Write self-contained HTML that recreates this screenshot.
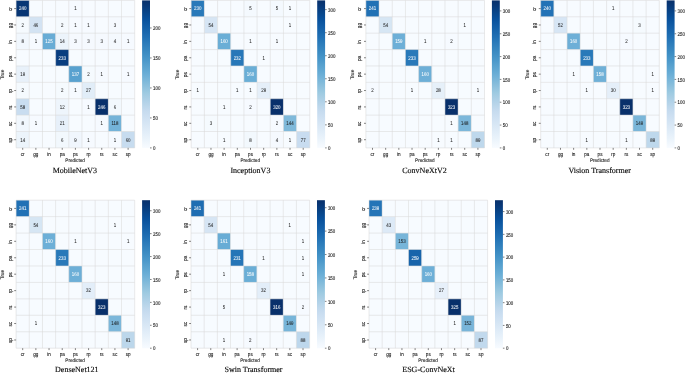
<!DOCTYPE html>
<html><head><meta charset="utf-8"><title>Confusion matrices</title>
<style>
html,body{margin:0;padding:0;background:#fff;}
body{width:685px;height:373px;overflow:hidden;}
svg{display:block;}
svg text{font-family:"Liberation Sans",sans-serif;fill:#1c1c1c;stroke:#1c1c1c;stroke-width:0.12px;font-size:5.45px;text-rendering:geometricPrecision;}
svg .an text.w{fill:#fff;stroke:#fff;}
.an text{text-anchor:middle;stroke-width:0.05px;}
.tk text{text-anchor:middle;font-size:5.5px;}
.ct text{text-anchor:start;}
svg text.lb{text-anchor:middle;font-size:5.1px;}
svg text.tt{font-family:"Liberation Serif",serif;font-size:8.0px;text-anchor:middle;fill:#0a0a0a;stroke:#0a0a0a;stroke-width:0.14px;}
</style></head><body>
<svg width="685" height="373" viewBox="0 0 685 373">
<defs><linearGradient id="cb" x1="0" y1="1" x2="0" y2="0">
<stop offset="0.0000" stop-color="#f7fbff"/>
<stop offset="0.0312" stop-color="#f1f7fd"/>
<stop offset="0.0625" stop-color="#eaf3fb"/>
<stop offset="0.0938" stop-color="#e4eff9"/>
<stop offset="0.1250" stop-color="#deebf7"/>
<stop offset="0.1562" stop-color="#d8e7f5"/>
<stop offset="0.1875" stop-color="#d2e3f3"/>
<stop offset="0.2188" stop-color="#ccdff1"/>
<stop offset="0.2500" stop-color="#c6dbef"/>
<stop offset="0.2812" stop-color="#bcd7eb"/>
<stop offset="0.3125" stop-color="#b2d2e8"/>
<stop offset="0.3438" stop-color="#a8cee4"/>
<stop offset="0.3750" stop-color="#9dcae1"/>
<stop offset="0.4062" stop-color="#91c3de"/>
<stop offset="0.4375" stop-color="#84bcdb"/>
<stop offset="0.4688" stop-color="#77b5d9"/>
<stop offset="0.5000" stop-color="#6aaed6"/>
<stop offset="0.5312" stop-color="#60a7d2"/>
<stop offset="0.5625" stop-color="#56a0ce"/>
<stop offset="0.5938" stop-color="#4b98ca"/>
<stop offset="0.6250" stop-color="#4191c6"/>
<stop offset="0.6562" stop-color="#3989c1"/>
<stop offset="0.6875" stop-color="#3181bd"/>
<stop offset="0.7188" stop-color="#2979b9"/>
<stop offset="0.7500" stop-color="#2070b4"/>
<stop offset="0.7812" stop-color="#1a68ae"/>
<stop offset="0.8125" stop-color="#1460a8"/>
<stop offset="0.8438" stop-color="#0e58a2"/>
<stop offset="0.8750" stop-color="#08509b"/>
<stop offset="0.9062" stop-color="#08488e"/>
<stop offset="0.9375" stop-color="#084082"/>
<stop offset="0.9688" stop-color="#083776"/>
<stop offset="1.0000" stop-color="#08306b"/>
</linearGradient></defs>
<rect width="685" height="373" fill="#ffffff"/>
<g>
<rect x="16.10" y="0.40" width="13.23" height="16.44" fill="#083674"/>
<rect x="29.28" y="0.40" width="13.23" height="16.44" fill="#f7fbff"/>
<rect x="42.46" y="0.40" width="13.23" height="16.44" fill="#f7fbff"/>
<rect x="55.63" y="0.40" width="13.23" height="16.44" fill="#f7fbff"/>
<rect x="68.81" y="0.40" width="13.23" height="16.44" fill="#f6faff"/>
<rect x="81.99" y="0.40" width="13.23" height="16.44" fill="#f7fbff"/>
<rect x="95.17" y="0.40" width="13.23" height="16.44" fill="#f7fbff"/>
<rect x="108.34" y="0.40" width="13.23" height="16.44" fill="#f7fbff"/>
<rect x="121.52" y="0.40" width="13.23" height="16.44" fill="#f7fbff"/>
<rect x="16.10" y="16.79" width="13.23" height="16.44" fill="#f5fafe"/>
<rect x="29.28" y="16.79" width="13.23" height="16.44" fill="#d3e3f3"/>
<rect x="42.46" y="16.79" width="13.23" height="16.44" fill="#f7fbff"/>
<rect x="55.63" y="16.79" width="13.23" height="16.44" fill="#f5fafe"/>
<rect x="68.81" y="16.79" width="13.23" height="16.44" fill="#f6faff"/>
<rect x="81.99" y="16.79" width="13.23" height="16.44" fill="#f6faff"/>
<rect x="95.17" y="16.79" width="13.23" height="16.44" fill="#f7fbff"/>
<rect x="108.34" y="16.79" width="13.23" height="16.44" fill="#f5f9fe"/>
<rect x="121.52" y="16.79" width="13.23" height="16.44" fill="#f7fbff"/>
<rect x="16.10" y="33.18" width="13.23" height="16.44" fill="#f1f7fd"/>
<rect x="29.28" y="33.18" width="13.23" height="16.44" fill="#f6faff"/>
<rect x="42.46" y="33.18" width="13.23" height="16.44" fill="#68acd5"/>
<rect x="55.63" y="33.18" width="13.23" height="16.44" fill="#ecf4fb"/>
<rect x="68.81" y="33.18" width="13.23" height="16.44" fill="#f5f9fe"/>
<rect x="81.99" y="33.18" width="13.23" height="16.44" fill="#f5f9fe"/>
<rect x="95.17" y="33.18" width="13.23" height="16.44" fill="#f5f9fe"/>
<rect x="108.34" y="33.18" width="13.23" height="16.44" fill="#f4f9fe"/>
<rect x="121.52" y="33.18" width="13.23" height="16.44" fill="#f6faff"/>
<rect x="16.10" y="49.57" width="13.23" height="16.44" fill="#f7fbff"/>
<rect x="29.28" y="49.57" width="13.23" height="16.44" fill="#f7fbff"/>
<rect x="42.46" y="49.57" width="13.23" height="16.44" fill="#f7fbff"/>
<rect x="55.63" y="49.57" width="13.23" height="16.44" fill="#083d7f"/>
<rect x="68.81" y="49.57" width="13.23" height="16.44" fill="#f7fbff"/>
<rect x="81.99" y="49.57" width="13.23" height="16.44" fill="#f7fbff"/>
<rect x="95.17" y="49.57" width="13.23" height="16.44" fill="#f7fbff"/>
<rect x="108.34" y="49.57" width="13.23" height="16.44" fill="#f7fbff"/>
<rect x="121.52" y="49.57" width="13.23" height="16.44" fill="#f7fbff"/>
<rect x="16.10" y="65.96" width="13.23" height="16.44" fill="#e8f1fa"/>
<rect x="29.28" y="65.96" width="13.23" height="16.44" fill="#f7fbff"/>
<rect x="42.46" y="65.96" width="13.23" height="16.44" fill="#f7fbff"/>
<rect x="55.63" y="65.96" width="13.23" height="16.44" fill="#f7fbff"/>
<rect x="68.81" y="65.96" width="13.23" height="16.44" fill="#58a1cf"/>
<rect x="81.99" y="65.96" width="13.23" height="16.44" fill="#f5fafe"/>
<rect x="95.17" y="65.96" width="13.23" height="16.44" fill="#f6faff"/>
<rect x="108.34" y="65.96" width="13.23" height="16.44" fill="#f7fbff"/>
<rect x="121.52" y="65.96" width="13.23" height="16.44" fill="#f6faff"/>
<rect x="16.10" y="82.34" width="13.23" height="16.44" fill="#f5fafe"/>
<rect x="29.28" y="82.34" width="13.23" height="16.44" fill="#f7fbff"/>
<rect x="42.46" y="82.34" width="13.23" height="16.44" fill="#f7fbff"/>
<rect x="55.63" y="82.34" width="13.23" height="16.44" fill="#f5fafe"/>
<rect x="68.81" y="82.34" width="13.23" height="16.44" fill="#f6faff"/>
<rect x="81.99" y="82.34" width="13.23" height="16.44" fill="#e1edf8"/>
<rect x="95.17" y="82.34" width="13.23" height="16.44" fill="#f7fbff"/>
<rect x="108.34" y="82.34" width="13.23" height="16.44" fill="#f7fbff"/>
<rect x="121.52" y="82.34" width="13.23" height="16.44" fill="#f7fbff"/>
<rect x="16.10" y="98.73" width="13.23" height="16.44" fill="#c9ddf0"/>
<rect x="29.28" y="98.73" width="13.23" height="16.44" fill="#f7fbff"/>
<rect x="42.46" y="98.73" width="13.23" height="16.44" fill="#f7fbff"/>
<rect x="55.63" y="98.73" width="13.23" height="16.44" fill="#eef5fc"/>
<rect x="68.81" y="98.73" width="13.23" height="16.44" fill="#f7fbff"/>
<rect x="81.99" y="98.73" width="13.23" height="16.44" fill="#f6faff"/>
<rect x="95.17" y="98.73" width="13.23" height="16.44" fill="#08306b"/>
<rect x="108.34" y="98.73" width="13.23" height="16.44" fill="#f2f8fd"/>
<rect x="121.52" y="98.73" width="13.23" height="16.44" fill="#f7fbff"/>
<rect x="16.10" y="115.12" width="13.23" height="16.44" fill="#f1f7fd"/>
<rect x="29.28" y="115.12" width="13.23" height="16.44" fill="#f6faff"/>
<rect x="42.46" y="115.12" width="13.23" height="16.44" fill="#f7fbff"/>
<rect x="55.63" y="115.12" width="13.23" height="16.44" fill="#e7f0fa"/>
<rect x="68.81" y="115.12" width="13.23" height="16.44" fill="#f7fbff"/>
<rect x="81.99" y="115.12" width="13.23" height="16.44" fill="#f7fbff"/>
<rect x="95.17" y="115.12" width="13.23" height="16.44" fill="#f6faff"/>
<rect x="108.34" y="115.12" width="13.23" height="16.44" fill="#74b3d8"/>
<rect x="121.52" y="115.12" width="13.23" height="16.44" fill="#f7fbff"/>
<rect x="16.10" y="131.51" width="13.23" height="16.44" fill="#ecf4fb"/>
<rect x="29.28" y="131.51" width="13.23" height="16.44" fill="#f7fbff"/>
<rect x="42.46" y="131.51" width="13.23" height="16.44" fill="#f7fbff"/>
<rect x="55.63" y="131.51" width="13.23" height="16.44" fill="#f2f8fd"/>
<rect x="68.81" y="131.51" width="13.23" height="16.44" fill="#f0f6fd"/>
<rect x="81.99" y="131.51" width="13.23" height="16.44" fill="#f6faff"/>
<rect x="95.17" y="131.51" width="13.23" height="16.44" fill="#f7fbff"/>
<rect x="108.34" y="131.51" width="13.23" height="16.44" fill="#f6faff"/>
<rect x="121.52" y="131.51" width="13.23" height="16.44" fill="#c7dcef"/>
<path d="M16.10 0.40V147.90M16.10 0.40H134.70M29.28 0.40V147.90M16.10 16.79H134.70M42.46 0.40V147.90M16.10 33.18H134.70M55.63 0.40V147.90M16.10 49.57H134.70M68.81 0.40V147.90M16.10 65.96H134.70M81.99 0.40V147.90M16.10 82.34H134.70M95.17 0.40V147.90M16.10 98.73H134.70M108.34 0.40V147.90M16.10 115.12H134.70M121.52 0.40V147.90M16.10 131.51H134.70M134.70 0.40V147.90M16.10 147.90H134.70" stroke="#d8d8d8" stroke-width="0.55" fill="none"/>
<g class="an">
<text class="w" transform="translate(22.69 10.44) scale(0.810 1)">240</text>
<text transform="translate(75.40 10.44) scale(0.810 1)">1</text>
<text transform="translate(22.69 26.83) scale(0.810 1)">2</text>
<text transform="translate(35.87 26.83) scale(0.810 1)">46</text>
<text transform="translate(62.22 26.83) scale(0.810 1)">2</text>
<text transform="translate(75.40 26.83) scale(0.810 1)">1</text>
<text transform="translate(88.58 26.83) scale(0.810 1)">1</text>
<text transform="translate(114.93 26.83) scale(0.810 1)">3</text>
<text transform="translate(22.69 43.22) scale(0.810 1)">8</text>
<text transform="translate(35.87 43.22) scale(0.810 1)">1</text>
<text class="w" transform="translate(49.04 43.22) scale(0.810 1)">125</text>
<text transform="translate(62.22 43.22) scale(0.810 1)">14</text>
<text transform="translate(75.40 43.22) scale(0.810 1)">3</text>
<text transform="translate(88.58 43.22) scale(0.810 1)">3</text>
<text transform="translate(101.76 43.22) scale(0.810 1)">3</text>
<text transform="translate(114.93 43.22) scale(0.810 1)">4</text>
<text transform="translate(128.11 43.22) scale(0.810 1)">1</text>
<text class="w" transform="translate(62.22 59.61) scale(0.810 1)">233</text>
<text transform="translate(22.69 76.00) scale(0.810 1)">19</text>
<text class="w" transform="translate(75.40 76.00) scale(0.810 1)">137</text>
<text transform="translate(88.58 76.00) scale(0.810 1)">2</text>
<text transform="translate(101.76 76.00) scale(0.810 1)">1</text>
<text transform="translate(128.11 76.00) scale(0.810 1)">1</text>
<text transform="translate(22.69 92.39) scale(0.810 1)">2</text>
<text transform="translate(62.22 92.39) scale(0.810 1)">2</text>
<text transform="translate(75.40 92.39) scale(0.810 1)">1</text>
<text transform="translate(88.58 92.39) scale(0.810 1)">27</text>
<text transform="translate(22.69 108.78) scale(0.810 1)">58</text>
<text transform="translate(62.22 108.78) scale(0.810 1)">12</text>
<text transform="translate(88.58 108.78) scale(0.810 1)">1</text>
<text class="w" transform="translate(101.76 108.78) scale(0.810 1)">246</text>
<text transform="translate(114.93 108.78) scale(0.810 1)">6</text>
<text transform="translate(22.69 125.17) scale(0.810 1)">8</text>
<text transform="translate(35.87 125.17) scale(0.810 1)">1</text>
<text transform="translate(62.22 125.17) scale(0.810 1)">21</text>
<text transform="translate(101.76 125.17) scale(0.810 1)">1</text>
<text transform="translate(114.93 125.17) scale(0.810 1)">118</text>
<text transform="translate(22.69 141.56) scale(0.810 1)">14</text>
<text transform="translate(62.22 141.56) scale(0.810 1)">6</text>
<text transform="translate(75.40 141.56) scale(0.810 1)">9</text>
<text transform="translate(88.58 141.56) scale(0.810 1)">1</text>
<text transform="translate(114.93 141.56) scale(0.810 1)">1</text>
<text transform="translate(128.11 141.56) scale(0.810 1)">60</text>
</g>
<path d="M22.69 147.90v1.9M16.10 8.59h-1.9M35.87 147.90v1.9M16.10 24.98h-1.9M49.04 147.90v1.9M16.10 41.37h-1.9M62.22 147.90v1.9M16.10 57.76h-1.9M75.40 147.90v1.9M16.10 74.15h-1.9M88.58 147.90v1.9M16.10 90.54h-1.9M101.76 147.90v1.9M16.10 106.93h-1.9M114.93 147.90v1.9M16.10 123.32h-1.9M128.11 147.90v1.9M16.10 139.71h-1.9" stroke="#1c1c1c" stroke-width="0.55" fill="none"/>
<g class="tk">
<text transform="translate(22.69 155.70) scale(0.840 1)">cr</text>
<text transform="translate(11.60 9.19) rotate(-90) scale(0.840 1)">cr</text>
<text transform="translate(35.87 155.70) scale(0.840 1)">gg</text>
<text transform="translate(11.60 25.58) rotate(-90) scale(0.840 1)">gg</text>
<text transform="translate(49.04 155.70) scale(0.840 1)">in</text>
<text transform="translate(11.60 41.97) rotate(-90) scale(0.840 1)">in</text>
<text transform="translate(62.22 155.70) scale(0.840 1)">pa</text>
<text transform="translate(11.60 58.36) rotate(-90) scale(0.840 1)">pa</text>
<text transform="translate(75.40 155.70) scale(0.840 1)">ps</text>
<text transform="translate(11.60 74.75) rotate(-90) scale(0.840 1)">ps</text>
<text transform="translate(88.58 155.70) scale(0.840 1)">rp</text>
<text transform="translate(11.60 91.14) rotate(-90) scale(0.840 1)">rp</text>
<text transform="translate(101.76 155.70) scale(0.840 1)">rs</text>
<text transform="translate(11.60 107.53) rotate(-90) scale(0.840 1)">rs</text>
<text transform="translate(114.93 155.70) scale(0.840 1)">sc</text>
<text transform="translate(11.60 123.92) rotate(-90) scale(0.840 1)">sc</text>
<text transform="translate(128.11 155.70) scale(0.840 1)">sp</text>
<text transform="translate(11.60 140.31) rotate(-90) scale(0.840 1)">sp</text>
</g>
<text class="lb" transform="translate(75.10 161.90) scale(0.910 1)">Predicted</text>
<text class="lb" transform="translate(3.90 74.45) rotate(-90) scale(0.910 1)">True</text>
<rect x="142.10" y="0.40" width="7.90" height="147.50" fill="url(#cb)"/>
<g class="ct">
<text transform="translate(153.00 150.10) scale(0.810 1)">0</text>
<text transform="translate(153.00 120.12) scale(0.810 1)">50</text>
<text transform="translate(153.00 90.14) scale(0.810 1)">100</text>
<text transform="translate(153.00 60.16) scale(0.810 1)">150</text>
<text transform="translate(153.00 30.18) scale(0.810 1)">200</text>
</g>
<path d="M150.00 147.90h1.6M150.00 117.92h1.6M150.00 87.94h1.6M150.00 57.96h1.6M150.00 27.98h1.6" stroke="#1c1c1c" stroke-width="0.55" fill="none"/>
<text class="tt" x="74.90" y="173.00">MobileNetV3</text>
</g>
<g>
<rect x="191.20" y="0.40" width="13.23" height="16.44" fill="#2979b9"/>
<rect x="204.38" y="0.40" width="13.23" height="16.44" fill="#f7fbff"/>
<rect x="217.56" y="0.40" width="13.23" height="16.44" fill="#f7fbff"/>
<rect x="230.73" y="0.40" width="13.23" height="16.44" fill="#f7fbff"/>
<rect x="243.91" y="0.40" width="13.23" height="16.44" fill="#f4f9fe"/>
<rect x="257.09" y="0.40" width="13.23" height="16.44" fill="#f7fbff"/>
<rect x="270.27" y="0.40" width="13.23" height="16.44" fill="#f4f9fe"/>
<rect x="283.44" y="0.40" width="13.23" height="16.44" fill="#f7fbff"/>
<rect x="296.62" y="0.40" width="13.23" height="16.44" fill="#f7fbff"/>
<rect x="191.20" y="16.79" width="13.23" height="16.44" fill="#f7fbff"/>
<rect x="204.38" y="16.79" width="13.23" height="16.44" fill="#d6e5f4"/>
<rect x="217.56" y="16.79" width="13.23" height="16.44" fill="#f7fbff"/>
<rect x="230.73" y="16.79" width="13.23" height="16.44" fill="#f7fbff"/>
<rect x="243.91" y="16.79" width="13.23" height="16.44" fill="#f7fbff"/>
<rect x="257.09" y="16.79" width="13.23" height="16.44" fill="#f7fbff"/>
<rect x="270.27" y="16.79" width="13.23" height="16.44" fill="#f7fbff"/>
<rect x="283.44" y="16.79" width="13.23" height="16.44" fill="#f7fbff"/>
<rect x="296.62" y="16.79" width="13.23" height="16.44" fill="#f7fbff"/>
<rect x="191.20" y="33.18" width="13.23" height="16.44" fill="#f7fbff"/>
<rect x="204.38" y="33.18" width="13.23" height="16.44" fill="#f7fbff"/>
<rect x="217.56" y="33.18" width="13.23" height="16.44" fill="#6aaed6"/>
<rect x="230.73" y="33.18" width="13.23" height="16.44" fill="#f7fbff"/>
<rect x="243.91" y="33.18" width="13.23" height="16.44" fill="#f7fbff"/>
<rect x="257.09" y="33.18" width="13.23" height="16.44" fill="#f7fbff"/>
<rect x="270.27" y="33.18" width="13.23" height="16.44" fill="#f7fbff"/>
<rect x="283.44" y="33.18" width="13.23" height="16.44" fill="#f7fbff"/>
<rect x="296.62" y="33.18" width="13.23" height="16.44" fill="#f7fbff"/>
<rect x="191.20" y="49.57" width="13.23" height="16.44" fill="#f7fbff"/>
<rect x="204.38" y="49.57" width="13.23" height="16.44" fill="#f7fbff"/>
<rect x="217.56" y="49.57" width="13.23" height="16.44" fill="#f7fbff"/>
<rect x="230.73" y="49.57" width="13.23" height="16.44" fill="#2777b8"/>
<rect x="243.91" y="49.57" width="13.23" height="16.44" fill="#f7fbff"/>
<rect x="257.09" y="49.57" width="13.23" height="16.44" fill="#f7fbff"/>
<rect x="270.27" y="49.57" width="13.23" height="16.44" fill="#f7fbff"/>
<rect x="283.44" y="49.57" width="13.23" height="16.44" fill="#f7fbff"/>
<rect x="296.62" y="49.57" width="13.23" height="16.44" fill="#f7fbff"/>
<rect x="191.20" y="65.96" width="13.23" height="16.44" fill="#f7fbff"/>
<rect x="204.38" y="65.96" width="13.23" height="16.44" fill="#f7fbff"/>
<rect x="217.56" y="65.96" width="13.23" height="16.44" fill="#f7fbff"/>
<rect x="230.73" y="65.96" width="13.23" height="16.44" fill="#f7fbff"/>
<rect x="243.91" y="65.96" width="13.23" height="16.44" fill="#6aaed6"/>
<rect x="257.09" y="65.96" width="13.23" height="16.44" fill="#f7fbff"/>
<rect x="270.27" y="65.96" width="13.23" height="16.44" fill="#f7fbff"/>
<rect x="283.44" y="65.96" width="13.23" height="16.44" fill="#f7fbff"/>
<rect x="296.62" y="65.96" width="13.23" height="16.44" fill="#f7fbff"/>
<rect x="191.20" y="82.34" width="13.23" height="16.44" fill="#f7fbff"/>
<rect x="204.38" y="82.34" width="13.23" height="16.44" fill="#f7fbff"/>
<rect x="217.56" y="82.34" width="13.23" height="16.44" fill="#f7fbff"/>
<rect x="230.73" y="82.34" width="13.23" height="16.44" fill="#f7fbff"/>
<rect x="243.91" y="82.34" width="13.23" height="16.44" fill="#f7fbff"/>
<rect x="257.09" y="82.34" width="13.23" height="16.44" fill="#e5eff9"/>
<rect x="270.27" y="82.34" width="13.23" height="16.44" fill="#f7fbff"/>
<rect x="283.44" y="82.34" width="13.23" height="16.44" fill="#f7fbff"/>
<rect x="296.62" y="82.34" width="13.23" height="16.44" fill="#f7fbff"/>
<rect x="191.20" y="98.73" width="13.23" height="16.44" fill="#f7fbff"/>
<rect x="204.38" y="98.73" width="13.23" height="16.44" fill="#f7fbff"/>
<rect x="217.56" y="98.73" width="13.23" height="16.44" fill="#f7fbff"/>
<rect x="230.73" y="98.73" width="13.23" height="16.44" fill="#f7fbff"/>
<rect x="243.91" y="98.73" width="13.23" height="16.44" fill="#f6faff"/>
<rect x="257.09" y="98.73" width="13.23" height="16.44" fill="#f7fbff"/>
<rect x="270.27" y="98.73" width="13.23" height="16.44" fill="#08306b"/>
<rect x="283.44" y="98.73" width="13.23" height="16.44" fill="#f7fbff"/>
<rect x="296.62" y="98.73" width="13.23" height="16.44" fill="#f7fbff"/>
<rect x="191.20" y="115.12" width="13.23" height="16.44" fill="#f7fbff"/>
<rect x="204.38" y="115.12" width="13.23" height="16.44" fill="#f5fafe"/>
<rect x="217.56" y="115.12" width="13.23" height="16.44" fill="#f7fbff"/>
<rect x="230.73" y="115.12" width="13.23" height="16.44" fill="#f7fbff"/>
<rect x="243.91" y="115.12" width="13.23" height="16.44" fill="#f7fbff"/>
<rect x="257.09" y="115.12" width="13.23" height="16.44" fill="#f7fbff"/>
<rect x="270.27" y="115.12" width="13.23" height="16.44" fill="#f6faff"/>
<rect x="283.44" y="115.12" width="13.23" height="16.44" fill="#7fb9da"/>
<rect x="296.62" y="115.12" width="13.23" height="16.44" fill="#f7fbff"/>
<rect x="191.20" y="131.51" width="13.23" height="16.44" fill="#f7fbff"/>
<rect x="204.38" y="131.51" width="13.23" height="16.44" fill="#f7fbff"/>
<rect x="217.56" y="131.51" width="13.23" height="16.44" fill="#f7fbff"/>
<rect x="230.73" y="131.51" width="13.23" height="16.44" fill="#f7fbff"/>
<rect x="243.91" y="131.51" width="13.23" height="16.44" fill="#f2f8fd"/>
<rect x="257.09" y="131.51" width="13.23" height="16.44" fill="#f7fbff"/>
<rect x="270.27" y="131.51" width="13.23" height="16.44" fill="#f5f9fe"/>
<rect x="283.44" y="131.51" width="13.23" height="16.44" fill="#f7fbff"/>
<rect x="296.62" y="131.51" width="13.23" height="16.44" fill="#c8dcf0"/>
<path d="M191.20 0.40V147.90M191.20 0.40H309.80M204.38 0.40V147.90M191.20 16.79H309.80M217.56 0.40V147.90M191.20 33.18H309.80M230.73 0.40V147.90M191.20 49.57H309.80M243.91 0.40V147.90M191.20 65.96H309.80M257.09 0.40V147.90M191.20 82.34H309.80M270.27 0.40V147.90M191.20 98.73H309.80M283.44 0.40V147.90M191.20 115.12H309.80M296.62 0.40V147.90M191.20 131.51H309.80M309.80 0.40V147.90M191.20 147.90H309.80" stroke="#d8d8d8" stroke-width="0.55" fill="none"/>
<g class="an">
<text class="w" transform="translate(197.79 10.44) scale(0.810 1)">230</text>
<text transform="translate(250.50 10.44) scale(0.810 1)">5</text>
<text transform="translate(276.86 10.44) scale(0.810 1)">5</text>
<text transform="translate(290.03 10.44) scale(0.810 1)">1</text>
<text transform="translate(210.97 26.83) scale(0.810 1)">54</text>
<text transform="translate(290.03 26.83) scale(0.810 1)">1</text>
<text class="w" transform="translate(224.14 43.22) scale(0.810 1)">160</text>
<text transform="translate(250.50 43.22) scale(0.810 1)">1</text>
<text transform="translate(276.86 43.22) scale(0.810 1)">1</text>
<text class="w" transform="translate(237.32 59.61) scale(0.810 1)">232</text>
<text transform="translate(263.68 59.61) scale(0.810 1)">1</text>
<text class="w" transform="translate(250.50 76.00) scale(0.810 1)">160</text>
<text transform="translate(197.79 92.39) scale(0.810 1)">1</text>
<text transform="translate(237.32 92.39) scale(0.810 1)">1</text>
<text transform="translate(250.50 92.39) scale(0.810 1)">1</text>
<text transform="translate(263.68 92.39) scale(0.810 1)">29</text>
<text transform="translate(224.14 108.78) scale(0.810 1)">1</text>
<text transform="translate(250.50 108.78) scale(0.810 1)">2</text>
<text class="w" transform="translate(276.86 108.78) scale(0.810 1)">320</text>
<text transform="translate(210.97 125.17) scale(0.810 1)">3</text>
<text transform="translate(276.86 125.17) scale(0.810 1)">2</text>
<text transform="translate(290.03 125.17) scale(0.810 1)">144</text>
<text transform="translate(224.14 141.56) scale(0.810 1)">1</text>
<text transform="translate(250.50 141.56) scale(0.810 1)">8</text>
<text transform="translate(276.86 141.56) scale(0.810 1)">4</text>
<text transform="translate(290.03 141.56) scale(0.810 1)">1</text>
<text transform="translate(303.21 141.56) scale(0.810 1)">77</text>
</g>
<path d="M197.79 147.90v1.9M191.20 8.59h-1.9M210.97 147.90v1.9M191.20 24.98h-1.9M224.14 147.90v1.9M191.20 41.37h-1.9M237.32 147.90v1.9M191.20 57.76h-1.9M250.50 147.90v1.9M191.20 74.15h-1.9M263.68 147.90v1.9M191.20 90.54h-1.9M276.86 147.90v1.9M191.20 106.93h-1.9M290.03 147.90v1.9M191.20 123.32h-1.9M303.21 147.90v1.9M191.20 139.71h-1.9" stroke="#1c1c1c" stroke-width="0.55" fill="none"/>
<g class="tk">
<text transform="translate(197.79 155.70) scale(0.840 1)">cr</text>
<text transform="translate(186.70 9.19) rotate(-90) scale(0.840 1)">cr</text>
<text transform="translate(210.97 155.70) scale(0.840 1)">gg</text>
<text transform="translate(186.70 25.58) rotate(-90) scale(0.840 1)">gg</text>
<text transform="translate(224.14 155.70) scale(0.840 1)">in</text>
<text transform="translate(186.70 41.97) rotate(-90) scale(0.840 1)">in</text>
<text transform="translate(237.32 155.70) scale(0.840 1)">pa</text>
<text transform="translate(186.70 58.36) rotate(-90) scale(0.840 1)">pa</text>
<text transform="translate(250.50 155.70) scale(0.840 1)">ps</text>
<text transform="translate(186.70 74.75) rotate(-90) scale(0.840 1)">ps</text>
<text transform="translate(263.68 155.70) scale(0.840 1)">rp</text>
<text transform="translate(186.70 91.14) rotate(-90) scale(0.840 1)">rp</text>
<text transform="translate(276.86 155.70) scale(0.840 1)">rs</text>
<text transform="translate(186.70 107.53) rotate(-90) scale(0.840 1)">rs</text>
<text transform="translate(290.03 155.70) scale(0.840 1)">sc</text>
<text transform="translate(186.70 123.92) rotate(-90) scale(0.840 1)">sc</text>
<text transform="translate(303.21 155.70) scale(0.840 1)">sp</text>
<text transform="translate(186.70 140.31) rotate(-90) scale(0.840 1)">sp</text>
</g>
<text class="lb" transform="translate(250.20 161.90) scale(0.910 1)">Predicted</text>
<text class="lb" transform="translate(179.00 74.45) rotate(-90) scale(0.910 1)">True</text>
<rect x="317.20" y="0.40" width="7.90" height="147.50" fill="url(#cb)"/>
<g class="ct">
<text transform="translate(328.10 150.10) scale(0.810 1)">0</text>
<text transform="translate(328.10 127.05) scale(0.810 1)">50</text>
<text transform="translate(328.10 104.01) scale(0.810 1)">100</text>
<text transform="translate(328.10 80.96) scale(0.810 1)">150</text>
<text transform="translate(328.10 57.91) scale(0.810 1)">200</text>
<text transform="translate(328.10 34.87) scale(0.810 1)">250</text>
<text transform="translate(328.10 11.82) scale(0.810 1)">300</text>
</g>
<path d="M325.10 147.90h1.6M325.10 124.85h1.6M325.10 101.81h1.6M325.10 78.76h1.6M325.10 55.71h1.6M325.10 32.67h1.6M325.10 9.62h1.6" stroke="#1c1c1c" stroke-width="0.55" fill="none"/>
<text class="tt" x="250.40" y="173.00">InceptionV3</text>
</g>
<g>
<rect x="365.90" y="0.40" width="13.23" height="16.44" fill="#2171b5"/>
<rect x="379.08" y="0.40" width="13.23" height="16.44" fill="#f7fbff"/>
<rect x="392.26" y="0.40" width="13.23" height="16.44" fill="#f7fbff"/>
<rect x="405.43" y="0.40" width="13.23" height="16.44" fill="#f7fbff"/>
<rect x="418.61" y="0.40" width="13.23" height="16.44" fill="#f7fbff"/>
<rect x="431.79" y="0.40" width="13.23" height="16.44" fill="#f7fbff"/>
<rect x="444.97" y="0.40" width="13.23" height="16.44" fill="#f7fbff"/>
<rect x="458.14" y="0.40" width="13.23" height="16.44" fill="#f7fbff"/>
<rect x="471.32" y="0.40" width="13.23" height="16.44" fill="#f7fbff"/>
<rect x="365.90" y="16.79" width="13.23" height="16.44" fill="#f7fbff"/>
<rect x="379.08" y="16.79" width="13.23" height="16.44" fill="#d6e6f4"/>
<rect x="392.26" y="16.79" width="13.23" height="16.44" fill="#f7fbff"/>
<rect x="405.43" y="16.79" width="13.23" height="16.44" fill="#f7fbff"/>
<rect x="418.61" y="16.79" width="13.23" height="16.44" fill="#f7fbff"/>
<rect x="431.79" y="16.79" width="13.23" height="16.44" fill="#f7fbff"/>
<rect x="444.97" y="16.79" width="13.23" height="16.44" fill="#f7fbff"/>
<rect x="458.14" y="16.79" width="13.23" height="16.44" fill="#f7fbff"/>
<rect x="471.32" y="16.79" width="13.23" height="16.44" fill="#f7fbff"/>
<rect x="365.90" y="33.18" width="13.23" height="16.44" fill="#f7fbff"/>
<rect x="379.08" y="33.18" width="13.23" height="16.44" fill="#f7fbff"/>
<rect x="392.26" y="33.18" width="13.23" height="16.44" fill="#6dafd7"/>
<rect x="405.43" y="33.18" width="13.23" height="16.44" fill="#f7fbff"/>
<rect x="418.61" y="33.18" width="13.23" height="16.44" fill="#f7fbff"/>
<rect x="431.79" y="33.18" width="13.23" height="16.44" fill="#f7fbff"/>
<rect x="444.97" y="33.18" width="13.23" height="16.44" fill="#f6faff"/>
<rect x="458.14" y="33.18" width="13.23" height="16.44" fill="#f7fbff"/>
<rect x="471.32" y="33.18" width="13.23" height="16.44" fill="#f7fbff"/>
<rect x="365.90" y="49.57" width="13.23" height="16.44" fill="#f7fbff"/>
<rect x="379.08" y="49.57" width="13.23" height="16.44" fill="#f7fbff"/>
<rect x="392.26" y="49.57" width="13.23" height="16.44" fill="#f7fbff"/>
<rect x="405.43" y="49.57" width="13.23" height="16.44" fill="#2979b9"/>
<rect x="418.61" y="49.57" width="13.23" height="16.44" fill="#f7fbff"/>
<rect x="431.79" y="49.57" width="13.23" height="16.44" fill="#f7fbff"/>
<rect x="444.97" y="49.57" width="13.23" height="16.44" fill="#f7fbff"/>
<rect x="458.14" y="49.57" width="13.23" height="16.44" fill="#f7fbff"/>
<rect x="471.32" y="49.57" width="13.23" height="16.44" fill="#f7fbff"/>
<rect x="365.90" y="65.96" width="13.23" height="16.44" fill="#f7fbff"/>
<rect x="379.08" y="65.96" width="13.23" height="16.44" fill="#f7fbff"/>
<rect x="392.26" y="65.96" width="13.23" height="16.44" fill="#f7fbff"/>
<rect x="405.43" y="65.96" width="13.23" height="16.44" fill="#f7fbff"/>
<rect x="418.61" y="65.96" width="13.23" height="16.44" fill="#6dafd7"/>
<rect x="431.79" y="65.96" width="13.23" height="16.44" fill="#f7fbff"/>
<rect x="444.97" y="65.96" width="13.23" height="16.44" fill="#f7fbff"/>
<rect x="458.14" y="65.96" width="13.23" height="16.44" fill="#f7fbff"/>
<rect x="471.32" y="65.96" width="13.23" height="16.44" fill="#f7fbff"/>
<rect x="365.90" y="82.34" width="13.23" height="16.44" fill="#f6faff"/>
<rect x="379.08" y="82.34" width="13.23" height="16.44" fill="#f7fbff"/>
<rect x="392.26" y="82.34" width="13.23" height="16.44" fill="#f7fbff"/>
<rect x="405.43" y="82.34" width="13.23" height="16.44" fill="#f7fbff"/>
<rect x="418.61" y="82.34" width="13.23" height="16.44" fill="#f7fbff"/>
<rect x="431.79" y="82.34" width="13.23" height="16.44" fill="#e6f0f9"/>
<rect x="444.97" y="82.34" width="13.23" height="16.44" fill="#f7fbff"/>
<rect x="458.14" y="82.34" width="13.23" height="16.44" fill="#f7fbff"/>
<rect x="471.32" y="82.34" width="13.23" height="16.44" fill="#f7fbff"/>
<rect x="365.90" y="98.73" width="13.23" height="16.44" fill="#f7fbff"/>
<rect x="379.08" y="98.73" width="13.23" height="16.44" fill="#f7fbff"/>
<rect x="392.26" y="98.73" width="13.23" height="16.44" fill="#f7fbff"/>
<rect x="405.43" y="98.73" width="13.23" height="16.44" fill="#f7fbff"/>
<rect x="418.61" y="98.73" width="13.23" height="16.44" fill="#f7fbff"/>
<rect x="431.79" y="98.73" width="13.23" height="16.44" fill="#f7fbff"/>
<rect x="444.97" y="98.73" width="13.23" height="16.44" fill="#08306b"/>
<rect x="458.14" y="98.73" width="13.23" height="16.44" fill="#f7fbff"/>
<rect x="471.32" y="98.73" width="13.23" height="16.44" fill="#f7fbff"/>
<rect x="365.90" y="115.12" width="13.23" height="16.44" fill="#f7fbff"/>
<rect x="379.08" y="115.12" width="13.23" height="16.44" fill="#f7fbff"/>
<rect x="392.26" y="115.12" width="13.23" height="16.44" fill="#f7fbff"/>
<rect x="405.43" y="115.12" width="13.23" height="16.44" fill="#f7fbff"/>
<rect x="418.61" y="115.12" width="13.23" height="16.44" fill="#f7fbff"/>
<rect x="431.79" y="115.12" width="13.23" height="16.44" fill="#f7fbff"/>
<rect x="444.97" y="115.12" width="13.23" height="16.44" fill="#f7fbff"/>
<rect x="458.14" y="115.12" width="13.23" height="16.44" fill="#7cb7da"/>
<rect x="471.32" y="115.12" width="13.23" height="16.44" fill="#f7fbff"/>
<rect x="365.90" y="131.51" width="13.23" height="16.44" fill="#f7fbff"/>
<rect x="379.08" y="131.51" width="13.23" height="16.44" fill="#f7fbff"/>
<rect x="392.26" y="131.51" width="13.23" height="16.44" fill="#f7fbff"/>
<rect x="405.43" y="131.51" width="13.23" height="16.44" fill="#f7fbff"/>
<rect x="418.61" y="131.51" width="13.23" height="16.44" fill="#f7fbff"/>
<rect x="431.79" y="131.51" width="13.23" height="16.44" fill="#f7fbff"/>
<rect x="444.97" y="131.51" width="13.23" height="16.44" fill="#f7fbff"/>
<rect x="458.14" y="131.51" width="13.23" height="16.44" fill="#f7fbff"/>
<rect x="471.32" y="131.51" width="13.23" height="16.44" fill="#bed8ec"/>
<path d="M365.90 0.40V147.90M365.90 0.40H484.50M379.08 0.40V147.90M365.90 16.79H484.50M392.26 0.40V147.90M365.90 33.18H484.50M405.43 0.40V147.90M365.90 49.57H484.50M418.61 0.40V147.90M365.90 65.96H484.50M431.79 0.40V147.90M365.90 82.34H484.50M444.97 0.40V147.90M365.90 98.73H484.50M458.14 0.40V147.90M365.90 115.12H484.50M471.32 0.40V147.90M365.90 131.51H484.50M484.50 0.40V147.90M365.90 147.90H484.50" stroke="#d8d8d8" stroke-width="0.55" fill="none"/>
<g class="an">
<text class="w" transform="translate(372.49 10.44) scale(0.810 1)">241</text>
<text transform="translate(385.67 26.83) scale(0.810 1)">54</text>
<text transform="translate(464.73 26.83) scale(0.810 1)">1</text>
<text class="w" transform="translate(398.84 43.22) scale(0.810 1)">159</text>
<text transform="translate(425.20 43.22) scale(0.810 1)">1</text>
<text transform="translate(451.56 43.22) scale(0.810 1)">2</text>
<text class="w" transform="translate(412.02 59.61) scale(0.810 1)">233</text>
<text class="w" transform="translate(425.20 76.00) scale(0.810 1)">160</text>
<text transform="translate(372.49 92.39) scale(0.810 1)">2</text>
<text transform="translate(412.02 92.39) scale(0.810 1)">1</text>
<text transform="translate(438.38 92.39) scale(0.810 1)">28</text>
<text transform="translate(477.91 92.39) scale(0.810 1)">1</text>
<text class="w" transform="translate(451.56 108.78) scale(0.810 1)">323</text>
<text transform="translate(451.56 125.17) scale(0.810 1)">1</text>
<text transform="translate(464.73 125.17) scale(0.810 1)">148</text>
<text transform="translate(438.38 141.56) scale(0.810 1)">1</text>
<text transform="translate(451.56 141.56) scale(0.810 1)">1</text>
<text transform="translate(477.91 141.56) scale(0.810 1)">89</text>
</g>
<path d="M372.49 147.90v1.9M365.90 8.59h-1.9M385.67 147.90v1.9M365.90 24.98h-1.9M398.84 147.90v1.9M365.90 41.37h-1.9M412.02 147.90v1.9M365.90 57.76h-1.9M425.20 147.90v1.9M365.90 74.15h-1.9M438.38 147.90v1.9M365.90 90.54h-1.9M451.56 147.90v1.9M365.90 106.93h-1.9M464.73 147.90v1.9M365.90 123.32h-1.9M477.91 147.90v1.9M365.90 139.71h-1.9" stroke="#1c1c1c" stroke-width="0.55" fill="none"/>
<g class="tk">
<text transform="translate(372.49 155.70) scale(0.840 1)">cr</text>
<text transform="translate(361.40 9.19) rotate(-90) scale(0.840 1)">cr</text>
<text transform="translate(385.67 155.70) scale(0.840 1)">gg</text>
<text transform="translate(361.40 25.58) rotate(-90) scale(0.840 1)">gg</text>
<text transform="translate(398.84 155.70) scale(0.840 1)">in</text>
<text transform="translate(361.40 41.97) rotate(-90) scale(0.840 1)">in</text>
<text transform="translate(412.02 155.70) scale(0.840 1)">pa</text>
<text transform="translate(361.40 58.36) rotate(-90) scale(0.840 1)">pa</text>
<text transform="translate(425.20 155.70) scale(0.840 1)">ps</text>
<text transform="translate(361.40 74.75) rotate(-90) scale(0.840 1)">ps</text>
<text transform="translate(438.38 155.70) scale(0.840 1)">rp</text>
<text transform="translate(361.40 91.14) rotate(-90) scale(0.840 1)">rp</text>
<text transform="translate(451.56 155.70) scale(0.840 1)">rs</text>
<text transform="translate(361.40 107.53) rotate(-90) scale(0.840 1)">rs</text>
<text transform="translate(464.73 155.70) scale(0.840 1)">sc</text>
<text transform="translate(361.40 123.92) rotate(-90) scale(0.840 1)">sc</text>
<text transform="translate(477.91 155.70) scale(0.840 1)">sp</text>
<text transform="translate(361.40 140.31) rotate(-90) scale(0.840 1)">sp</text>
</g>
<text class="lb" transform="translate(424.90 161.90) scale(0.910 1)">Predicted</text>
<text class="lb" transform="translate(353.70 74.45) rotate(-90) scale(0.910 1)">True</text>
<rect x="491.90" y="0.40" width="7.90" height="147.50" fill="url(#cb)"/>
<g class="ct">
<text transform="translate(502.80 150.10) scale(0.810 1)">0</text>
<text transform="translate(502.80 127.27) scale(0.810 1)">50</text>
<text transform="translate(502.80 104.43) scale(0.810 1)">100</text>
<text transform="translate(502.80 81.60) scale(0.810 1)">150</text>
<text transform="translate(502.80 58.77) scale(0.810 1)">200</text>
<text transform="translate(502.80 35.94) scale(0.810 1)">250</text>
<text transform="translate(502.80 13.10) scale(0.810 1)">300</text>
</g>
<path d="M499.80 147.90h1.6M499.80 125.07h1.6M499.80 102.23h1.6M499.80 79.40h1.6M499.80 56.57h1.6M499.80 33.74h1.6M499.80 10.90h1.6" stroke="#1c1c1c" stroke-width="0.55" fill="none"/>
<text class="tt" x="424.50" y="173.00">ConvNeXtV2</text>
</g>
<g>
<rect x="540.70" y="0.40" width="13.23" height="16.44" fill="#2272b6"/>
<rect x="553.88" y="0.40" width="13.23" height="16.44" fill="#f7fbff"/>
<rect x="567.06" y="0.40" width="13.23" height="16.44" fill="#f7fbff"/>
<rect x="580.23" y="0.40" width="13.23" height="16.44" fill="#f7fbff"/>
<rect x="593.41" y="0.40" width="13.23" height="16.44" fill="#f7fbff"/>
<rect x="606.59" y="0.40" width="13.23" height="16.44" fill="#f7fbff"/>
<rect x="619.77" y="0.40" width="13.23" height="16.44" fill="#f7fbff"/>
<rect x="632.94" y="0.40" width="13.23" height="16.44" fill="#f7fbff"/>
<rect x="646.12" y="0.40" width="13.23" height="16.44" fill="#f7fbff"/>
<rect x="540.70" y="16.79" width="13.23" height="16.44" fill="#f7fbff"/>
<rect x="553.88" y="16.79" width="13.23" height="16.44" fill="#d7e6f5"/>
<rect x="567.06" y="16.79" width="13.23" height="16.44" fill="#f7fbff"/>
<rect x="580.23" y="16.79" width="13.23" height="16.44" fill="#f7fbff"/>
<rect x="593.41" y="16.79" width="13.23" height="16.44" fill="#f7fbff"/>
<rect x="606.59" y="16.79" width="13.23" height="16.44" fill="#f7fbff"/>
<rect x="619.77" y="16.79" width="13.23" height="16.44" fill="#f7fbff"/>
<rect x="632.94" y="16.79" width="13.23" height="16.44" fill="#f5fafe"/>
<rect x="646.12" y="16.79" width="13.23" height="16.44" fill="#f7fbff"/>
<rect x="540.70" y="33.18" width="13.23" height="16.44" fill="#f7fbff"/>
<rect x="553.88" y="33.18" width="13.23" height="16.44" fill="#f7fbff"/>
<rect x="567.06" y="33.18" width="13.23" height="16.44" fill="#6dafd7"/>
<rect x="580.23" y="33.18" width="13.23" height="16.44" fill="#f7fbff"/>
<rect x="593.41" y="33.18" width="13.23" height="16.44" fill="#f7fbff"/>
<rect x="606.59" y="33.18" width="13.23" height="16.44" fill="#f7fbff"/>
<rect x="619.77" y="33.18" width="13.23" height="16.44" fill="#f6faff"/>
<rect x="632.94" y="33.18" width="13.23" height="16.44" fill="#f7fbff"/>
<rect x="646.12" y="33.18" width="13.23" height="16.44" fill="#f7fbff"/>
<rect x="540.70" y="49.57" width="13.23" height="16.44" fill="#f7fbff"/>
<rect x="553.88" y="49.57" width="13.23" height="16.44" fill="#f7fbff"/>
<rect x="567.06" y="49.57" width="13.23" height="16.44" fill="#f7fbff"/>
<rect x="580.23" y="49.57" width="13.23" height="16.44" fill="#2979b9"/>
<rect x="593.41" y="49.57" width="13.23" height="16.44" fill="#f7fbff"/>
<rect x="606.59" y="49.57" width="13.23" height="16.44" fill="#f7fbff"/>
<rect x="619.77" y="49.57" width="13.23" height="16.44" fill="#f7fbff"/>
<rect x="632.94" y="49.57" width="13.23" height="16.44" fill="#f7fbff"/>
<rect x="646.12" y="49.57" width="13.23" height="16.44" fill="#f7fbff"/>
<rect x="540.70" y="65.96" width="13.23" height="16.44" fill="#f7fbff"/>
<rect x="553.88" y="65.96" width="13.23" height="16.44" fill="#f7fbff"/>
<rect x="567.06" y="65.96" width="13.23" height="16.44" fill="#f7fbff"/>
<rect x="580.23" y="65.96" width="13.23" height="16.44" fill="#f7fbff"/>
<rect x="593.41" y="65.96" width="13.23" height="16.44" fill="#6fb0d7"/>
<rect x="606.59" y="65.96" width="13.23" height="16.44" fill="#f7fbff"/>
<rect x="619.77" y="65.96" width="13.23" height="16.44" fill="#f7fbff"/>
<rect x="632.94" y="65.96" width="13.23" height="16.44" fill="#f7fbff"/>
<rect x="646.12" y="65.96" width="13.23" height="16.44" fill="#f7fbff"/>
<rect x="540.70" y="82.34" width="13.23" height="16.44" fill="#f7fbff"/>
<rect x="553.88" y="82.34" width="13.23" height="16.44" fill="#f7fbff"/>
<rect x="567.06" y="82.34" width="13.23" height="16.44" fill="#f7fbff"/>
<rect x="580.23" y="82.34" width="13.23" height="16.44" fill="#f7fbff"/>
<rect x="593.41" y="82.34" width="13.23" height="16.44" fill="#f7fbff"/>
<rect x="606.59" y="82.34" width="13.23" height="16.44" fill="#e5eff9"/>
<rect x="619.77" y="82.34" width="13.23" height="16.44" fill="#f7fbff"/>
<rect x="632.94" y="82.34" width="13.23" height="16.44" fill="#f7fbff"/>
<rect x="646.12" y="82.34" width="13.23" height="16.44" fill="#f7fbff"/>
<rect x="540.70" y="98.73" width="13.23" height="16.44" fill="#f7fbff"/>
<rect x="553.88" y="98.73" width="13.23" height="16.44" fill="#f7fbff"/>
<rect x="567.06" y="98.73" width="13.23" height="16.44" fill="#f7fbff"/>
<rect x="580.23" y="98.73" width="13.23" height="16.44" fill="#f7fbff"/>
<rect x="593.41" y="98.73" width="13.23" height="16.44" fill="#f7fbff"/>
<rect x="606.59" y="98.73" width="13.23" height="16.44" fill="#f7fbff"/>
<rect x="619.77" y="98.73" width="13.23" height="16.44" fill="#08306b"/>
<rect x="632.94" y="98.73" width="13.23" height="16.44" fill="#f7fbff"/>
<rect x="646.12" y="98.73" width="13.23" height="16.44" fill="#f7fbff"/>
<rect x="540.70" y="115.12" width="13.23" height="16.44" fill="#f7fbff"/>
<rect x="553.88" y="115.12" width="13.23" height="16.44" fill="#f7fbff"/>
<rect x="567.06" y="115.12" width="13.23" height="16.44" fill="#f7fbff"/>
<rect x="580.23" y="115.12" width="13.23" height="16.44" fill="#f7fbff"/>
<rect x="593.41" y="115.12" width="13.23" height="16.44" fill="#f7fbff"/>
<rect x="606.59" y="115.12" width="13.23" height="16.44" fill="#f7fbff"/>
<rect x="619.77" y="115.12" width="13.23" height="16.44" fill="#f7fbff"/>
<rect x="632.94" y="115.12" width="13.23" height="16.44" fill="#7ab6d9"/>
<rect x="646.12" y="115.12" width="13.23" height="16.44" fill="#f7fbff"/>
<rect x="540.70" y="131.51" width="13.23" height="16.44" fill="#f7fbff"/>
<rect x="553.88" y="131.51" width="13.23" height="16.44" fill="#f7fbff"/>
<rect x="567.06" y="131.51" width="13.23" height="16.44" fill="#f7fbff"/>
<rect x="580.23" y="131.51" width="13.23" height="16.44" fill="#f7fbff"/>
<rect x="593.41" y="131.51" width="13.23" height="16.44" fill="#f7fbff"/>
<rect x="606.59" y="131.51" width="13.23" height="16.44" fill="#f7fbff"/>
<rect x="619.77" y="131.51" width="13.23" height="16.44" fill="#f7fbff"/>
<rect x="632.94" y="131.51" width="13.23" height="16.44" fill="#f7fbff"/>
<rect x="646.12" y="131.51" width="13.23" height="16.44" fill="#bed8ec"/>
<path d="M540.70 0.40V147.90M540.70 0.40H659.30M553.88 0.40V147.90M540.70 16.79H659.30M567.06 0.40V147.90M540.70 33.18H659.30M580.23 0.40V147.90M540.70 49.57H659.30M593.41 0.40V147.90M540.70 65.96H659.30M606.59 0.40V147.90M540.70 82.34H659.30M619.77 0.40V147.90M540.70 98.73H659.30M632.94 0.40V147.90M540.70 115.12H659.30M646.12 0.40V147.90M540.70 131.51H659.30M659.30 0.40V147.90M540.70 147.90H659.30" stroke="#d8d8d8" stroke-width="0.55" fill="none"/>
<g class="an">
<text class="w" transform="translate(547.29 10.44) scale(0.810 1)">240</text>
<text transform="translate(613.18 10.44) scale(0.810 1)">1</text>
<text transform="translate(560.47 26.83) scale(0.810 1)">52</text>
<text transform="translate(639.53 26.83) scale(0.810 1)">3</text>
<text class="w" transform="translate(573.64 43.22) scale(0.810 1)">160</text>
<text transform="translate(626.36 43.22) scale(0.810 1)">2</text>
<text class="w" transform="translate(586.82 59.61) scale(0.810 1)">233</text>
<text transform="translate(573.64 76.00) scale(0.810 1)">1</text>
<text class="w" transform="translate(600.00 76.00) scale(0.810 1)">158</text>
<text transform="translate(652.71 76.00) scale(0.810 1)">1</text>
<text transform="translate(586.82 92.39) scale(0.810 1)">1</text>
<text transform="translate(613.18 92.39) scale(0.810 1)">30</text>
<text transform="translate(652.71 92.39) scale(0.810 1)">1</text>
<text class="w" transform="translate(626.36 108.78) scale(0.810 1)">323</text>
<text transform="translate(639.53 125.17) scale(0.810 1)">149</text>
<text transform="translate(586.82 141.56) scale(0.810 1)">1</text>
<text transform="translate(626.36 141.56) scale(0.810 1)">1</text>
<text transform="translate(652.71 141.56) scale(0.810 1)">89</text>
</g>
<path d="M547.29 147.90v1.9M540.70 8.59h-1.9M560.47 147.90v1.9M540.70 24.98h-1.9M573.64 147.90v1.9M540.70 41.37h-1.9M586.82 147.90v1.9M540.70 57.76h-1.9M600.00 147.90v1.9M540.70 74.15h-1.9M613.18 147.90v1.9M540.70 90.54h-1.9M626.36 147.90v1.9M540.70 106.93h-1.9M639.53 147.90v1.9M540.70 123.32h-1.9M652.71 147.90v1.9M540.70 139.71h-1.9" stroke="#1c1c1c" stroke-width="0.55" fill="none"/>
<g class="tk">
<text transform="translate(547.29 155.70) scale(0.840 1)">cr</text>
<text transform="translate(536.20 9.19) rotate(-90) scale(0.840 1)">cr</text>
<text transform="translate(560.47 155.70) scale(0.840 1)">gg</text>
<text transform="translate(536.20 25.58) rotate(-90) scale(0.840 1)">gg</text>
<text transform="translate(573.64 155.70) scale(0.840 1)">in</text>
<text transform="translate(536.20 41.97) rotate(-90) scale(0.840 1)">in</text>
<text transform="translate(586.82 155.70) scale(0.840 1)">pa</text>
<text transform="translate(536.20 58.36) rotate(-90) scale(0.840 1)">pa</text>
<text transform="translate(600.00 155.70) scale(0.840 1)">ps</text>
<text transform="translate(536.20 74.75) rotate(-90) scale(0.840 1)">ps</text>
<text transform="translate(613.18 155.70) scale(0.840 1)">rp</text>
<text transform="translate(536.20 91.14) rotate(-90) scale(0.840 1)">rp</text>
<text transform="translate(626.36 155.70) scale(0.840 1)">rs</text>
<text transform="translate(536.20 107.53) rotate(-90) scale(0.840 1)">rs</text>
<text transform="translate(639.53 155.70) scale(0.840 1)">sc</text>
<text transform="translate(536.20 123.92) rotate(-90) scale(0.840 1)">sc</text>
<text transform="translate(652.71 155.70) scale(0.840 1)">sp</text>
<text transform="translate(536.20 140.31) rotate(-90) scale(0.840 1)">sp</text>
</g>
<text class="lb" transform="translate(599.70 161.90) scale(0.910 1)">Predicted</text>
<text class="lb" transform="translate(528.50 74.45) rotate(-90) scale(0.910 1)">True</text>
<rect x="666.70" y="0.40" width="7.90" height="147.50" fill="url(#cb)"/>
<g class="ct">
<text transform="translate(677.60 150.10) scale(0.810 1)">0</text>
<text transform="translate(677.60 127.27) scale(0.810 1)">50</text>
<text transform="translate(677.60 104.43) scale(0.810 1)">100</text>
<text transform="translate(677.60 81.60) scale(0.810 1)">150</text>
<text transform="translate(677.60 58.77) scale(0.810 1)">200</text>
<text transform="translate(677.60 35.94) scale(0.810 1)">250</text>
<text transform="translate(677.60 13.10) scale(0.810 1)">300</text>
</g>
<path d="M674.60 147.90h1.6M674.60 125.07h1.6M674.60 102.23h1.6M674.60 79.40h1.6M674.60 56.57h1.6M674.60 33.74h1.6M674.60 10.90h1.6" stroke="#1c1c1c" stroke-width="0.55" fill="none"/>
<text class="tt" x="599.70" y="173.00">Vision Transformer</text>
</g>
<g>
<rect x="16.10" y="200.20" width="13.23" height="16.49" fill="#2171b5"/>
<rect x="29.28" y="200.20" width="13.23" height="16.49" fill="#f7fbff"/>
<rect x="42.46" y="200.20" width="13.23" height="16.49" fill="#f7fbff"/>
<rect x="55.63" y="200.20" width="13.23" height="16.49" fill="#f7fbff"/>
<rect x="68.81" y="200.20" width="13.23" height="16.49" fill="#f7fbff"/>
<rect x="81.99" y="200.20" width="13.23" height="16.49" fill="#f7fbff"/>
<rect x="95.17" y="200.20" width="13.23" height="16.49" fill="#f7fbff"/>
<rect x="108.34" y="200.20" width="13.23" height="16.49" fill="#f7fbff"/>
<rect x="121.52" y="200.20" width="13.23" height="16.49" fill="#f7fbff"/>
<rect x="16.10" y="216.64" width="13.23" height="16.49" fill="#f7fbff"/>
<rect x="29.28" y="216.64" width="13.23" height="16.49" fill="#d6e6f4"/>
<rect x="42.46" y="216.64" width="13.23" height="16.49" fill="#f7fbff"/>
<rect x="55.63" y="216.64" width="13.23" height="16.49" fill="#f7fbff"/>
<rect x="68.81" y="216.64" width="13.23" height="16.49" fill="#f7fbff"/>
<rect x="81.99" y="216.64" width="13.23" height="16.49" fill="#f7fbff"/>
<rect x="95.17" y="216.64" width="13.23" height="16.49" fill="#f7fbff"/>
<rect x="108.34" y="216.64" width="13.23" height="16.49" fill="#f7fbff"/>
<rect x="121.52" y="216.64" width="13.23" height="16.49" fill="#f7fbff"/>
<rect x="16.10" y="233.09" width="13.23" height="16.49" fill="#f7fbff"/>
<rect x="29.28" y="233.09" width="13.23" height="16.49" fill="#f7fbff"/>
<rect x="42.46" y="233.09" width="13.23" height="16.49" fill="#6dafd7"/>
<rect x="55.63" y="233.09" width="13.23" height="16.49" fill="#f7fbff"/>
<rect x="68.81" y="233.09" width="13.23" height="16.49" fill="#f7fbff"/>
<rect x="81.99" y="233.09" width="13.23" height="16.49" fill="#f7fbff"/>
<rect x="95.17" y="233.09" width="13.23" height="16.49" fill="#f7fbff"/>
<rect x="108.34" y="233.09" width="13.23" height="16.49" fill="#f7fbff"/>
<rect x="121.52" y="233.09" width="13.23" height="16.49" fill="#f7fbff"/>
<rect x="16.10" y="249.53" width="13.23" height="16.49" fill="#f7fbff"/>
<rect x="29.28" y="249.53" width="13.23" height="16.49" fill="#f7fbff"/>
<rect x="42.46" y="249.53" width="13.23" height="16.49" fill="#f7fbff"/>
<rect x="55.63" y="249.53" width="13.23" height="16.49" fill="#2979b9"/>
<rect x="68.81" y="249.53" width="13.23" height="16.49" fill="#f7fbff"/>
<rect x="81.99" y="249.53" width="13.23" height="16.49" fill="#f7fbff"/>
<rect x="95.17" y="249.53" width="13.23" height="16.49" fill="#f7fbff"/>
<rect x="108.34" y="249.53" width="13.23" height="16.49" fill="#f7fbff"/>
<rect x="121.52" y="249.53" width="13.23" height="16.49" fill="#f7fbff"/>
<rect x="16.10" y="265.98" width="13.23" height="16.49" fill="#f7fbff"/>
<rect x="29.28" y="265.98" width="13.23" height="16.49" fill="#f7fbff"/>
<rect x="42.46" y="265.98" width="13.23" height="16.49" fill="#f7fbff"/>
<rect x="55.63" y="265.98" width="13.23" height="16.49" fill="#f7fbff"/>
<rect x="68.81" y="265.98" width="13.23" height="16.49" fill="#6dafd7"/>
<rect x="81.99" y="265.98" width="13.23" height="16.49" fill="#f7fbff"/>
<rect x="95.17" y="265.98" width="13.23" height="16.49" fill="#f7fbff"/>
<rect x="108.34" y="265.98" width="13.23" height="16.49" fill="#f7fbff"/>
<rect x="121.52" y="265.98" width="13.23" height="16.49" fill="#f7fbff"/>
<rect x="16.10" y="282.42" width="13.23" height="16.49" fill="#f7fbff"/>
<rect x="29.28" y="282.42" width="13.23" height="16.49" fill="#f7fbff"/>
<rect x="42.46" y="282.42" width="13.23" height="16.49" fill="#f7fbff"/>
<rect x="55.63" y="282.42" width="13.23" height="16.49" fill="#f7fbff"/>
<rect x="68.81" y="282.42" width="13.23" height="16.49" fill="#f7fbff"/>
<rect x="81.99" y="282.42" width="13.23" height="16.49" fill="#e3eef9"/>
<rect x="95.17" y="282.42" width="13.23" height="16.49" fill="#f7fbff"/>
<rect x="108.34" y="282.42" width="13.23" height="16.49" fill="#f7fbff"/>
<rect x="121.52" y="282.42" width="13.23" height="16.49" fill="#f7fbff"/>
<rect x="16.10" y="298.87" width="13.23" height="16.49" fill="#f7fbff"/>
<rect x="29.28" y="298.87" width="13.23" height="16.49" fill="#f7fbff"/>
<rect x="42.46" y="298.87" width="13.23" height="16.49" fill="#f7fbff"/>
<rect x="55.63" y="298.87" width="13.23" height="16.49" fill="#f7fbff"/>
<rect x="68.81" y="298.87" width="13.23" height="16.49" fill="#f7fbff"/>
<rect x="81.99" y="298.87" width="13.23" height="16.49" fill="#f7fbff"/>
<rect x="95.17" y="298.87" width="13.23" height="16.49" fill="#08306b"/>
<rect x="108.34" y="298.87" width="13.23" height="16.49" fill="#f7fbff"/>
<rect x="121.52" y="298.87" width="13.23" height="16.49" fill="#f7fbff"/>
<rect x="16.10" y="315.31" width="13.23" height="16.49" fill="#f7fbff"/>
<rect x="29.28" y="315.31" width="13.23" height="16.49" fill="#f7fbff"/>
<rect x="42.46" y="315.31" width="13.23" height="16.49" fill="#f7fbff"/>
<rect x="55.63" y="315.31" width="13.23" height="16.49" fill="#f7fbff"/>
<rect x="68.81" y="315.31" width="13.23" height="16.49" fill="#f7fbff"/>
<rect x="81.99" y="315.31" width="13.23" height="16.49" fill="#f7fbff"/>
<rect x="95.17" y="315.31" width="13.23" height="16.49" fill="#f7fbff"/>
<rect x="108.34" y="315.31" width="13.23" height="16.49" fill="#7cb7da"/>
<rect x="121.52" y="315.31" width="13.23" height="16.49" fill="#f7fbff"/>
<rect x="16.10" y="331.76" width="13.23" height="16.49" fill="#f7fbff"/>
<rect x="29.28" y="331.76" width="13.23" height="16.49" fill="#f7fbff"/>
<rect x="42.46" y="331.76" width="13.23" height="16.49" fill="#f7fbff"/>
<rect x="55.63" y="331.76" width="13.23" height="16.49" fill="#f7fbff"/>
<rect x="68.81" y="331.76" width="13.23" height="16.49" fill="#f7fbff"/>
<rect x="81.99" y="331.76" width="13.23" height="16.49" fill="#f7fbff"/>
<rect x="95.17" y="331.76" width="13.23" height="16.49" fill="#f7fbff"/>
<rect x="108.34" y="331.76" width="13.23" height="16.49" fill="#f7fbff"/>
<rect x="121.52" y="331.76" width="13.23" height="16.49" fill="#bcd7eb"/>
<path d="M16.10 200.20V348.20M16.10 200.20H134.70M29.28 200.20V348.20M16.10 216.64H134.70M42.46 200.20V348.20M16.10 233.09H134.70M55.63 200.20V348.20M16.10 249.53H134.70M68.81 200.20V348.20M16.10 265.98H134.70M81.99 200.20V348.20M16.10 282.42H134.70M95.17 200.20V348.20M16.10 298.87H134.70M108.34 200.20V348.20M16.10 315.31H134.70M121.52 200.20V348.20M16.10 331.76H134.70M134.70 200.20V348.20M16.10 348.20H134.70" stroke="#d8d8d8" stroke-width="0.55" fill="none"/>
<g class="an">
<text class="w" transform="translate(22.69 210.27) scale(0.810 1)">241</text>
<text transform="translate(35.87 226.72) scale(0.810 1)">54</text>
<text transform="translate(114.93 226.72) scale(0.810 1)">1</text>
<text class="w" transform="translate(49.04 243.16) scale(0.810 1)">160</text>
<text transform="translate(75.40 243.16) scale(0.810 1)">1</text>
<text transform="translate(128.11 243.16) scale(0.810 1)">1</text>
<text class="w" transform="translate(62.22 259.61) scale(0.810 1)">233</text>
<text class="w" transform="translate(75.40 276.05) scale(0.810 1)">160</text>
<text transform="translate(88.58 292.49) scale(0.810 1)">32</text>
<text class="w" transform="translate(101.76 308.94) scale(0.810 1)">323</text>
<text transform="translate(35.87 325.38) scale(0.810 1)">1</text>
<text transform="translate(114.93 325.38) scale(0.810 1)">148</text>
<text transform="translate(128.11 341.83) scale(0.810 1)">91</text>
</g>
<path d="M22.69 348.20v1.9M16.10 208.42h-1.9M35.87 348.20v1.9M16.10 224.87h-1.9M49.04 348.20v1.9M16.10 241.31h-1.9M62.22 348.20v1.9M16.10 257.76h-1.9M75.40 348.20v1.9M16.10 274.20h-1.9M88.58 348.20v1.9M16.10 290.64h-1.9M101.76 348.20v1.9M16.10 307.09h-1.9M114.93 348.20v1.9M16.10 323.53h-1.9M128.11 348.20v1.9M16.10 339.98h-1.9" stroke="#1c1c1c" stroke-width="0.55" fill="none"/>
<g class="tk">
<text transform="translate(22.69 356.00) scale(0.840 1)">cr</text>
<text transform="translate(11.60 209.02) rotate(-90) scale(0.840 1)">cr</text>
<text transform="translate(35.87 356.00) scale(0.840 1)">gg</text>
<text transform="translate(11.60 225.47) rotate(-90) scale(0.840 1)">gg</text>
<text transform="translate(49.04 356.00) scale(0.840 1)">in</text>
<text transform="translate(11.60 241.91) rotate(-90) scale(0.840 1)">in</text>
<text transform="translate(62.22 356.00) scale(0.840 1)">pa</text>
<text transform="translate(11.60 258.36) rotate(-90) scale(0.840 1)">pa</text>
<text transform="translate(75.40 356.00) scale(0.840 1)">ps</text>
<text transform="translate(11.60 274.80) rotate(-90) scale(0.840 1)">ps</text>
<text transform="translate(88.58 356.00) scale(0.840 1)">rp</text>
<text transform="translate(11.60 291.24) rotate(-90) scale(0.840 1)">rp</text>
<text transform="translate(101.76 356.00) scale(0.840 1)">rs</text>
<text transform="translate(11.60 307.69) rotate(-90) scale(0.840 1)">rs</text>
<text transform="translate(114.93 356.00) scale(0.840 1)">sc</text>
<text transform="translate(11.60 324.13) rotate(-90) scale(0.840 1)">sc</text>
<text transform="translate(128.11 356.00) scale(0.840 1)">sp</text>
<text transform="translate(11.60 340.58) rotate(-90) scale(0.840 1)">sp</text>
</g>
<text class="lb" transform="translate(75.10 362.20) scale(0.910 1)">Predicted</text>
<text class="lb" transform="translate(3.90 274.50) rotate(-90) scale(0.910 1)">True</text>
<rect x="142.10" y="200.20" width="7.90" height="148.00" fill="url(#cb)"/>
<g class="ct">
<text transform="translate(153.00 350.40) scale(0.810 1)">0</text>
<text transform="translate(153.00 327.49) scale(0.810 1)">50</text>
<text transform="translate(153.00 304.58) scale(0.810 1)">100</text>
<text transform="translate(153.00 281.67) scale(0.810 1)">150</text>
<text transform="translate(153.00 258.76) scale(0.810 1)">200</text>
<text transform="translate(153.00 235.85) scale(0.810 1)">250</text>
<text transform="translate(153.00 212.94) scale(0.810 1)">300</text>
</g>
<path d="M150.00 348.20h1.6M150.00 325.29h1.6M150.00 302.38h1.6M150.00 279.47h1.6M150.00 256.56h1.6M150.00 233.65h1.6M150.00 210.74h1.6" stroke="#1c1c1c" stroke-width="0.55" fill="none"/>
<text class="tt" x="76.85" y="372.20">DenseNet121</text>
</g>
<g>
<rect x="191.00" y="200.20" width="13.23" height="16.49" fill="#1e6db2"/>
<rect x="204.18" y="200.20" width="13.23" height="16.49" fill="#f7fbff"/>
<rect x="217.36" y="200.20" width="13.23" height="16.49" fill="#f7fbff"/>
<rect x="230.53" y="200.20" width="13.23" height="16.49" fill="#f7fbff"/>
<rect x="243.71" y="200.20" width="13.23" height="16.49" fill="#f7fbff"/>
<rect x="256.89" y="200.20" width="13.23" height="16.49" fill="#f7fbff"/>
<rect x="270.07" y="200.20" width="13.23" height="16.49" fill="#f7fbff"/>
<rect x="283.24" y="200.20" width="13.23" height="16.49" fill="#f7fbff"/>
<rect x="296.42" y="200.20" width="13.23" height="16.49" fill="#f7fbff"/>
<rect x="191.00" y="216.64" width="13.23" height="16.49" fill="#f7fbff"/>
<rect x="204.18" y="216.64" width="13.23" height="16.49" fill="#d6e5f4"/>
<rect x="217.36" y="216.64" width="13.23" height="16.49" fill="#f7fbff"/>
<rect x="230.53" y="216.64" width="13.23" height="16.49" fill="#f7fbff"/>
<rect x="243.71" y="216.64" width="13.23" height="16.49" fill="#f7fbff"/>
<rect x="256.89" y="216.64" width="13.23" height="16.49" fill="#f7fbff"/>
<rect x="270.07" y="216.64" width="13.23" height="16.49" fill="#f7fbff"/>
<rect x="283.24" y="216.64" width="13.23" height="16.49" fill="#f7fbff"/>
<rect x="296.42" y="216.64" width="13.23" height="16.49" fill="#f7fbff"/>
<rect x="191.00" y="233.09" width="13.23" height="16.49" fill="#f7fbff"/>
<rect x="204.18" y="233.09" width="13.23" height="16.49" fill="#f7fbff"/>
<rect x="217.36" y="233.09" width="13.23" height="16.49" fill="#68acd5"/>
<rect x="230.53" y="233.09" width="13.23" height="16.49" fill="#f7fbff"/>
<rect x="243.71" y="233.09" width="13.23" height="16.49" fill="#f7fbff"/>
<rect x="256.89" y="233.09" width="13.23" height="16.49" fill="#f7fbff"/>
<rect x="270.07" y="233.09" width="13.23" height="16.49" fill="#f7fbff"/>
<rect x="283.24" y="233.09" width="13.23" height="16.49" fill="#f7fbff"/>
<rect x="296.42" y="233.09" width="13.23" height="16.49" fill="#f7fbff"/>
<rect x="191.00" y="249.53" width="13.23" height="16.49" fill="#f7fbff"/>
<rect x="204.18" y="249.53" width="13.23" height="16.49" fill="#f7fbff"/>
<rect x="217.36" y="249.53" width="13.23" height="16.49" fill="#f7fbff"/>
<rect x="230.53" y="249.53" width="13.23" height="16.49" fill="#2575b7"/>
<rect x="243.71" y="249.53" width="13.23" height="16.49" fill="#f7fbff"/>
<rect x="256.89" y="249.53" width="13.23" height="16.49" fill="#f7fbff"/>
<rect x="270.07" y="249.53" width="13.23" height="16.49" fill="#f7fbff"/>
<rect x="283.24" y="249.53" width="13.23" height="16.49" fill="#f7fbff"/>
<rect x="296.42" y="249.53" width="13.23" height="16.49" fill="#f7fbff"/>
<rect x="191.00" y="265.98" width="13.23" height="16.49" fill="#f7fbff"/>
<rect x="204.18" y="265.98" width="13.23" height="16.49" fill="#f7fbff"/>
<rect x="217.36" y="265.98" width="13.23" height="16.49" fill="#f7fbff"/>
<rect x="230.53" y="265.98" width="13.23" height="16.49" fill="#f7fbff"/>
<rect x="243.71" y="265.98" width="13.23" height="16.49" fill="#6aaed6"/>
<rect x="256.89" y="265.98" width="13.23" height="16.49" fill="#f7fbff"/>
<rect x="270.07" y="265.98" width="13.23" height="16.49" fill="#f7fbff"/>
<rect x="283.24" y="265.98" width="13.23" height="16.49" fill="#f7fbff"/>
<rect x="296.42" y="265.98" width="13.23" height="16.49" fill="#f7fbff"/>
<rect x="191.00" y="282.42" width="13.23" height="16.49" fill="#f7fbff"/>
<rect x="204.18" y="282.42" width="13.23" height="16.49" fill="#f7fbff"/>
<rect x="217.36" y="282.42" width="13.23" height="16.49" fill="#f7fbff"/>
<rect x="230.53" y="282.42" width="13.23" height="16.49" fill="#f7fbff"/>
<rect x="243.71" y="282.42" width="13.23" height="16.49" fill="#f7fbff"/>
<rect x="256.89" y="282.42" width="13.23" height="16.49" fill="#e3eef9"/>
<rect x="270.07" y="282.42" width="13.23" height="16.49" fill="#f7fbff"/>
<rect x="283.24" y="282.42" width="13.23" height="16.49" fill="#f7fbff"/>
<rect x="296.42" y="282.42" width="13.23" height="16.49" fill="#f7fbff"/>
<rect x="191.00" y="298.87" width="13.23" height="16.49" fill="#f7fbff"/>
<rect x="204.18" y="298.87" width="13.23" height="16.49" fill="#f7fbff"/>
<rect x="217.36" y="298.87" width="13.23" height="16.49" fill="#f4f9fe"/>
<rect x="230.53" y="298.87" width="13.23" height="16.49" fill="#f7fbff"/>
<rect x="243.71" y="298.87" width="13.23" height="16.49" fill="#f7fbff"/>
<rect x="256.89" y="298.87" width="13.23" height="16.49" fill="#f7fbff"/>
<rect x="270.07" y="298.87" width="13.23" height="16.49" fill="#08306b"/>
<rect x="283.24" y="298.87" width="13.23" height="16.49" fill="#f7fbff"/>
<rect x="296.42" y="298.87" width="13.23" height="16.49" fill="#f6faff"/>
<rect x="191.00" y="315.31" width="13.23" height="16.49" fill="#f7fbff"/>
<rect x="204.18" y="315.31" width="13.23" height="16.49" fill="#f7fbff"/>
<rect x="217.36" y="315.31" width="13.23" height="16.49" fill="#f7fbff"/>
<rect x="230.53" y="315.31" width="13.23" height="16.49" fill="#f7fbff"/>
<rect x="243.71" y="315.31" width="13.23" height="16.49" fill="#f7fbff"/>
<rect x="256.89" y="315.31" width="13.23" height="16.49" fill="#f7fbff"/>
<rect x="270.07" y="315.31" width="13.23" height="16.49" fill="#f7fbff"/>
<rect x="283.24" y="315.31" width="13.23" height="16.49" fill="#77b5d9"/>
<rect x="296.42" y="315.31" width="13.23" height="16.49" fill="#f7fbff"/>
<rect x="191.00" y="331.76" width="13.23" height="16.49" fill="#f7fbff"/>
<rect x="204.18" y="331.76" width="13.23" height="16.49" fill="#f7fbff"/>
<rect x="217.36" y="331.76" width="13.23" height="16.49" fill="#f7fbff"/>
<rect x="230.53" y="331.76" width="13.23" height="16.49" fill="#f7fbff"/>
<rect x="243.71" y="331.76" width="13.23" height="16.49" fill="#f6faff"/>
<rect x="256.89" y="331.76" width="13.23" height="16.49" fill="#f7fbff"/>
<rect x="270.07" y="331.76" width="13.23" height="16.49" fill="#f7fbff"/>
<rect x="283.24" y="331.76" width="13.23" height="16.49" fill="#f7fbff"/>
<rect x="296.42" y="331.76" width="13.23" height="16.49" fill="#bdd7ec"/>
<path d="M191.00 200.20V348.20M191.00 200.20H309.60M204.18 200.20V348.20M191.00 216.64H309.60M217.36 200.20V348.20M191.00 233.09H309.60M230.53 200.20V348.20M191.00 249.53H309.60M243.71 200.20V348.20M191.00 265.98H309.60M256.89 200.20V348.20M191.00 282.42H309.60M270.07 200.20V348.20M191.00 298.87H309.60M283.24 200.20V348.20M191.00 315.31H309.60M296.42 200.20V348.20M191.00 331.76H309.60M309.60 200.20V348.20M191.00 348.20H309.60" stroke="#d8d8d8" stroke-width="0.55" fill="none"/>
<g class="an">
<text class="w" transform="translate(197.59 210.27) scale(0.810 1)">241</text>
<text transform="translate(210.77 226.72) scale(0.810 1)">54</text>
<text transform="translate(289.83 226.72) scale(0.810 1)">1</text>
<text class="w" transform="translate(223.94 243.16) scale(0.810 1)">161</text>
<text transform="translate(303.01 243.16) scale(0.810 1)">1</text>
<text class="w" transform="translate(237.12 259.61) scale(0.810 1)">231</text>
<text transform="translate(263.48 259.61) scale(0.810 1)">1</text>
<text transform="translate(303.01 259.61) scale(0.810 1)">1</text>
<text transform="translate(223.94 276.05) scale(0.810 1)">1</text>
<text class="w" transform="translate(250.30 276.05) scale(0.810 1)">158</text>
<text transform="translate(303.01 276.05) scale(0.810 1)">1</text>
<text transform="translate(263.48 292.49) scale(0.810 1)">32</text>
<text transform="translate(223.94 308.94) scale(0.810 1)">5</text>
<text class="w" transform="translate(276.66 308.94) scale(0.810 1)">316</text>
<text transform="translate(303.01 308.94) scale(0.810 1)">2</text>
<text transform="translate(289.83 325.38) scale(0.810 1)">149</text>
<text transform="translate(223.94 341.83) scale(0.810 1)">1</text>
<text transform="translate(250.30 341.83) scale(0.810 1)">2</text>
<text transform="translate(303.01 341.83) scale(0.810 1)">88</text>
</g>
<path d="M197.59 348.20v1.9M191.00 208.42h-1.9M210.77 348.20v1.9M191.00 224.87h-1.9M223.94 348.20v1.9M191.00 241.31h-1.9M237.12 348.20v1.9M191.00 257.76h-1.9M250.30 348.20v1.9M191.00 274.20h-1.9M263.48 348.20v1.9M191.00 290.64h-1.9M276.66 348.20v1.9M191.00 307.09h-1.9M289.83 348.20v1.9M191.00 323.53h-1.9M303.01 348.20v1.9M191.00 339.98h-1.9" stroke="#1c1c1c" stroke-width="0.55" fill="none"/>
<g class="tk">
<text transform="translate(197.59 356.00) scale(0.840 1)">cr</text>
<text transform="translate(186.50 209.02) rotate(-90) scale(0.840 1)">cr</text>
<text transform="translate(210.77 356.00) scale(0.840 1)">gg</text>
<text transform="translate(186.50 225.47) rotate(-90) scale(0.840 1)">gg</text>
<text transform="translate(223.94 356.00) scale(0.840 1)">in</text>
<text transform="translate(186.50 241.91) rotate(-90) scale(0.840 1)">in</text>
<text transform="translate(237.12 356.00) scale(0.840 1)">pa</text>
<text transform="translate(186.50 258.36) rotate(-90) scale(0.840 1)">pa</text>
<text transform="translate(250.30 356.00) scale(0.840 1)">ps</text>
<text transform="translate(186.50 274.80) rotate(-90) scale(0.840 1)">ps</text>
<text transform="translate(263.48 356.00) scale(0.840 1)">rp</text>
<text transform="translate(186.50 291.24) rotate(-90) scale(0.840 1)">rp</text>
<text transform="translate(276.66 356.00) scale(0.840 1)">rs</text>
<text transform="translate(186.50 307.69) rotate(-90) scale(0.840 1)">rs</text>
<text transform="translate(289.83 356.00) scale(0.840 1)">sc</text>
<text transform="translate(186.50 324.13) rotate(-90) scale(0.840 1)">sc</text>
<text transform="translate(303.01 356.00) scale(0.840 1)">sp</text>
<text transform="translate(186.50 340.58) rotate(-90) scale(0.840 1)">sp</text>
</g>
<text class="lb" transform="translate(250.00 362.20) scale(0.910 1)">Predicted</text>
<text class="lb" transform="translate(178.80 274.50) rotate(-90) scale(0.910 1)">True</text>
<rect x="317.00" y="200.20" width="7.90" height="148.00" fill="url(#cb)"/>
<g class="ct">
<text transform="translate(327.90 350.40) scale(0.810 1)">0</text>
<text transform="translate(327.90 326.98) scale(0.810 1)">50</text>
<text transform="translate(327.90 303.56) scale(0.810 1)">100</text>
<text transform="translate(327.90 280.15) scale(0.810 1)">150</text>
<text transform="translate(327.90 256.73) scale(0.810 1)">200</text>
<text transform="translate(327.90 233.31) scale(0.810 1)">250</text>
<text transform="translate(327.90 209.89) scale(0.810 1)">300</text>
</g>
<path d="M324.90 348.20h1.6M324.90 324.78h1.6M324.90 301.36h1.6M324.90 277.95h1.6M324.90 254.53h1.6M324.90 231.11h1.6M324.90 207.69h1.6" stroke="#1c1c1c" stroke-width="0.55" fill="none"/>
<text class="tt" x="253.50" y="372.20">Swin Transformer</text>
</g>
<g>
<rect x="369.00" y="200.20" width="13.23" height="16.49" fill="#2474b7"/>
<rect x="382.18" y="200.20" width="13.23" height="16.49" fill="#f7fbff"/>
<rect x="395.36" y="200.20" width="13.23" height="16.49" fill="#f7fbff"/>
<rect x="408.53" y="200.20" width="13.23" height="16.49" fill="#f7fbff"/>
<rect x="421.71" y="200.20" width="13.23" height="16.49" fill="#f7fbff"/>
<rect x="434.89" y="200.20" width="13.23" height="16.49" fill="#f7fbff"/>
<rect x="448.07" y="200.20" width="13.23" height="16.49" fill="#f7fbff"/>
<rect x="461.24" y="200.20" width="13.23" height="16.49" fill="#f7fbff"/>
<rect x="474.42" y="200.20" width="13.23" height="16.49" fill="#f7fbff"/>
<rect x="369.00" y="216.64" width="13.23" height="16.49" fill="#f7fbff"/>
<rect x="382.18" y="216.64" width="13.23" height="16.49" fill="#ddeaf7"/>
<rect x="395.36" y="216.64" width="13.23" height="16.49" fill="#f7fbff"/>
<rect x="408.53" y="216.64" width="13.23" height="16.49" fill="#f7fbff"/>
<rect x="421.71" y="216.64" width="13.23" height="16.49" fill="#f7fbff"/>
<rect x="434.89" y="216.64" width="13.23" height="16.49" fill="#f7fbff"/>
<rect x="448.07" y="216.64" width="13.23" height="16.49" fill="#f7fbff"/>
<rect x="461.24" y="216.64" width="13.23" height="16.49" fill="#f7fbff"/>
<rect x="474.42" y="216.64" width="13.23" height="16.49" fill="#f7fbff"/>
<rect x="369.00" y="233.09" width="13.23" height="16.49" fill="#f7fbff"/>
<rect x="382.18" y="233.09" width="13.23" height="16.49" fill="#f7fbff"/>
<rect x="395.36" y="233.09" width="13.23" height="16.49" fill="#77b5d9"/>
<rect x="408.53" y="233.09" width="13.23" height="16.49" fill="#f7fbff"/>
<rect x="421.71" y="233.09" width="13.23" height="16.49" fill="#f7fbff"/>
<rect x="434.89" y="233.09" width="13.23" height="16.49" fill="#f7fbff"/>
<rect x="448.07" y="233.09" width="13.23" height="16.49" fill="#f7fbff"/>
<rect x="461.24" y="233.09" width="13.23" height="16.49" fill="#f7fbff"/>
<rect x="474.42" y="233.09" width="13.23" height="16.49" fill="#f7fbff"/>
<rect x="369.00" y="249.53" width="13.23" height="16.49" fill="#f7fbff"/>
<rect x="382.18" y="249.53" width="13.23" height="16.49" fill="#f7fbff"/>
<rect x="395.36" y="249.53" width="13.23" height="16.49" fill="#f7fbff"/>
<rect x="408.53" y="249.53" width="13.23" height="16.49" fill="#1764ab"/>
<rect x="421.71" y="249.53" width="13.23" height="16.49" fill="#f7fbff"/>
<rect x="434.89" y="249.53" width="13.23" height="16.49" fill="#f7fbff"/>
<rect x="448.07" y="249.53" width="13.23" height="16.49" fill="#f7fbff"/>
<rect x="461.24" y="249.53" width="13.23" height="16.49" fill="#f7fbff"/>
<rect x="474.42" y="249.53" width="13.23" height="16.49" fill="#f7fbff"/>
<rect x="369.00" y="265.98" width="13.23" height="16.49" fill="#f7fbff"/>
<rect x="382.18" y="265.98" width="13.23" height="16.49" fill="#f7fbff"/>
<rect x="395.36" y="265.98" width="13.23" height="16.49" fill="#f7fbff"/>
<rect x="408.53" y="265.98" width="13.23" height="16.49" fill="#f7fbff"/>
<rect x="421.71" y="265.98" width="13.23" height="16.49" fill="#6dafd7"/>
<rect x="434.89" y="265.98" width="13.23" height="16.49" fill="#f7fbff"/>
<rect x="448.07" y="265.98" width="13.23" height="16.49" fill="#f7fbff"/>
<rect x="461.24" y="265.98" width="13.23" height="16.49" fill="#f7fbff"/>
<rect x="474.42" y="265.98" width="13.23" height="16.49" fill="#f7fbff"/>
<rect x="369.00" y="282.42" width="13.23" height="16.49" fill="#f7fbff"/>
<rect x="382.18" y="282.42" width="13.23" height="16.49" fill="#f7fbff"/>
<rect x="395.36" y="282.42" width="13.23" height="16.49" fill="#f7fbff"/>
<rect x="408.53" y="282.42" width="13.23" height="16.49" fill="#f7fbff"/>
<rect x="421.71" y="282.42" width="13.23" height="16.49" fill="#f7fbff"/>
<rect x="434.89" y="282.42" width="13.23" height="16.49" fill="#e7f0fa"/>
<rect x="448.07" y="282.42" width="13.23" height="16.49" fill="#f7fbff"/>
<rect x="461.24" y="282.42" width="13.23" height="16.49" fill="#f7fbff"/>
<rect x="474.42" y="282.42" width="13.23" height="16.49" fill="#f7fbff"/>
<rect x="369.00" y="298.87" width="13.23" height="16.49" fill="#f7fbff"/>
<rect x="382.18" y="298.87" width="13.23" height="16.49" fill="#f7fbff"/>
<rect x="395.36" y="298.87" width="13.23" height="16.49" fill="#f7fbff"/>
<rect x="408.53" y="298.87" width="13.23" height="16.49" fill="#f7fbff"/>
<rect x="421.71" y="298.87" width="13.23" height="16.49" fill="#f7fbff"/>
<rect x="434.89" y="298.87" width="13.23" height="16.49" fill="#f7fbff"/>
<rect x="448.07" y="298.87" width="13.23" height="16.49" fill="#08306b"/>
<rect x="461.24" y="298.87" width="13.23" height="16.49" fill="#f7fbff"/>
<rect x="474.42" y="298.87" width="13.23" height="16.49" fill="#f7fbff"/>
<rect x="369.00" y="315.31" width="13.23" height="16.49" fill="#f7fbff"/>
<rect x="382.18" y="315.31" width="13.23" height="16.49" fill="#f7fbff"/>
<rect x="395.36" y="315.31" width="13.23" height="16.49" fill="#f7fbff"/>
<rect x="408.53" y="315.31" width="13.23" height="16.49" fill="#f7fbff"/>
<rect x="421.71" y="315.31" width="13.23" height="16.49" fill="#f7fbff"/>
<rect x="434.89" y="315.31" width="13.23" height="16.49" fill="#f7fbff"/>
<rect x="448.07" y="315.31" width="13.23" height="16.49" fill="#f7fbff"/>
<rect x="461.24" y="315.31" width="13.23" height="16.49" fill="#79b5d9"/>
<rect x="474.42" y="315.31" width="13.23" height="16.49" fill="#f7fbff"/>
<rect x="369.00" y="331.76" width="13.23" height="16.49" fill="#f7fbff"/>
<rect x="382.18" y="331.76" width="13.23" height="16.49" fill="#f7fbff"/>
<rect x="395.36" y="331.76" width="13.23" height="16.49" fill="#f7fbff"/>
<rect x="408.53" y="331.76" width="13.23" height="16.49" fill="#f7fbff"/>
<rect x="421.71" y="331.76" width="13.23" height="16.49" fill="#f7fbff"/>
<rect x="434.89" y="331.76" width="13.23" height="16.49" fill="#f7fbff"/>
<rect x="448.07" y="331.76" width="13.23" height="16.49" fill="#f7fbff"/>
<rect x="461.24" y="331.76" width="13.23" height="16.49" fill="#f7fbff"/>
<rect x="474.42" y="331.76" width="13.23" height="16.49" fill="#c1d9ed"/>
<path d="M369.00 200.20V348.20M369.00 200.20H487.60M382.18 200.20V348.20M369.00 216.64H487.60M395.36 200.20V348.20M369.00 233.09H487.60M408.53 200.20V348.20M369.00 249.53H487.60M421.71 200.20V348.20M369.00 265.98H487.60M434.89 200.20V348.20M369.00 282.42H487.60M448.07 200.20V348.20M369.00 298.87H487.60M461.24 200.20V348.20M369.00 315.31H487.60M474.42 200.20V348.20M369.00 331.76H487.60M487.60 200.20V348.20M369.00 348.20H487.60" stroke="#d8d8d8" stroke-width="0.55" fill="none"/>
<g class="an">
<text class="w" transform="translate(375.59 210.27) scale(0.810 1)">239</text>
<text transform="translate(388.77 226.72) scale(0.810 1)">43</text>
<text transform="translate(401.94 243.16) scale(0.810 1)">153</text>
<text class="w" transform="translate(415.12 259.61) scale(0.810 1)">259</text>
<text class="w" transform="translate(428.30 276.05) scale(0.810 1)">160</text>
<text transform="translate(441.48 292.49) scale(0.810 1)">27</text>
<text class="w" transform="translate(454.66 308.94) scale(0.810 1)">325</text>
<text transform="translate(454.66 325.38) scale(0.810 1)">1</text>
<text transform="translate(467.83 325.38) scale(0.810 1)">152</text>
<text transform="translate(481.01 341.83) scale(0.810 1)">87</text>
</g>
<path d="M375.59 348.20v1.9M369.00 208.42h-1.9M388.77 348.20v1.9M369.00 224.87h-1.9M401.94 348.20v1.9M369.00 241.31h-1.9M415.12 348.20v1.9M369.00 257.76h-1.9M428.30 348.20v1.9M369.00 274.20h-1.9M441.48 348.20v1.9M369.00 290.64h-1.9M454.66 348.20v1.9M369.00 307.09h-1.9M467.83 348.20v1.9M369.00 323.53h-1.9M481.01 348.20v1.9M369.00 339.98h-1.9" stroke="#1c1c1c" stroke-width="0.55" fill="none"/>
<g class="tk">
<text transform="translate(375.59 356.00) scale(0.840 1)">cr</text>
<text transform="translate(364.50 209.02) rotate(-90) scale(0.840 1)">cr</text>
<text transform="translate(388.77 356.00) scale(0.840 1)">gg</text>
<text transform="translate(364.50 225.47) rotate(-90) scale(0.840 1)">gg</text>
<text transform="translate(401.94 356.00) scale(0.840 1)">in</text>
<text transform="translate(364.50 241.91) rotate(-90) scale(0.840 1)">in</text>
<text transform="translate(415.12 356.00) scale(0.840 1)">pa</text>
<text transform="translate(364.50 258.36) rotate(-90) scale(0.840 1)">pa</text>
<text transform="translate(428.30 356.00) scale(0.840 1)">ps</text>
<text transform="translate(364.50 274.80) rotate(-90) scale(0.840 1)">ps</text>
<text transform="translate(441.48 356.00) scale(0.840 1)">rp</text>
<text transform="translate(364.50 291.24) rotate(-90) scale(0.840 1)">rp</text>
<text transform="translate(454.66 356.00) scale(0.840 1)">rs</text>
<text transform="translate(364.50 307.69) rotate(-90) scale(0.840 1)">rs</text>
<text transform="translate(467.83 356.00) scale(0.840 1)">sc</text>
<text transform="translate(364.50 324.13) rotate(-90) scale(0.840 1)">sc</text>
<text transform="translate(481.01 356.00) scale(0.840 1)">sp</text>
<text transform="translate(364.50 340.58) rotate(-90) scale(0.840 1)">sp</text>
</g>
<text class="lb" transform="translate(428.00 362.20) scale(0.910 1)">Predicted</text>
<text class="lb" transform="translate(356.80 274.50) rotate(-90) scale(0.910 1)">True</text>
<rect x="495.00" y="200.20" width="7.90" height="148.00" fill="url(#cb)"/>
<g class="ct">
<text transform="translate(505.90 350.40) scale(0.810 1)">0</text>
<text transform="translate(505.90 327.63) scale(0.810 1)">50</text>
<text transform="translate(505.90 304.86) scale(0.810 1)">100</text>
<text transform="translate(505.90 282.09) scale(0.810 1)">150</text>
<text transform="translate(505.90 259.32) scale(0.810 1)">200</text>
<text transform="translate(505.90 236.55) scale(0.810 1)">250</text>
<text transform="translate(505.90 213.78) scale(0.810 1)">300</text>
</g>
<path d="M502.90 348.20h1.6M502.90 325.43h1.6M502.90 302.66h1.6M502.90 279.89h1.6M502.90 257.12h1.6M502.90 234.35h1.6M502.90 211.58h1.6" stroke="#1c1c1c" stroke-width="0.55" fill="none"/>
<text class="tt" x="428.50" y="372.20">ESG-ConvNeXt</text>
</g>
</svg>
</body></html>
